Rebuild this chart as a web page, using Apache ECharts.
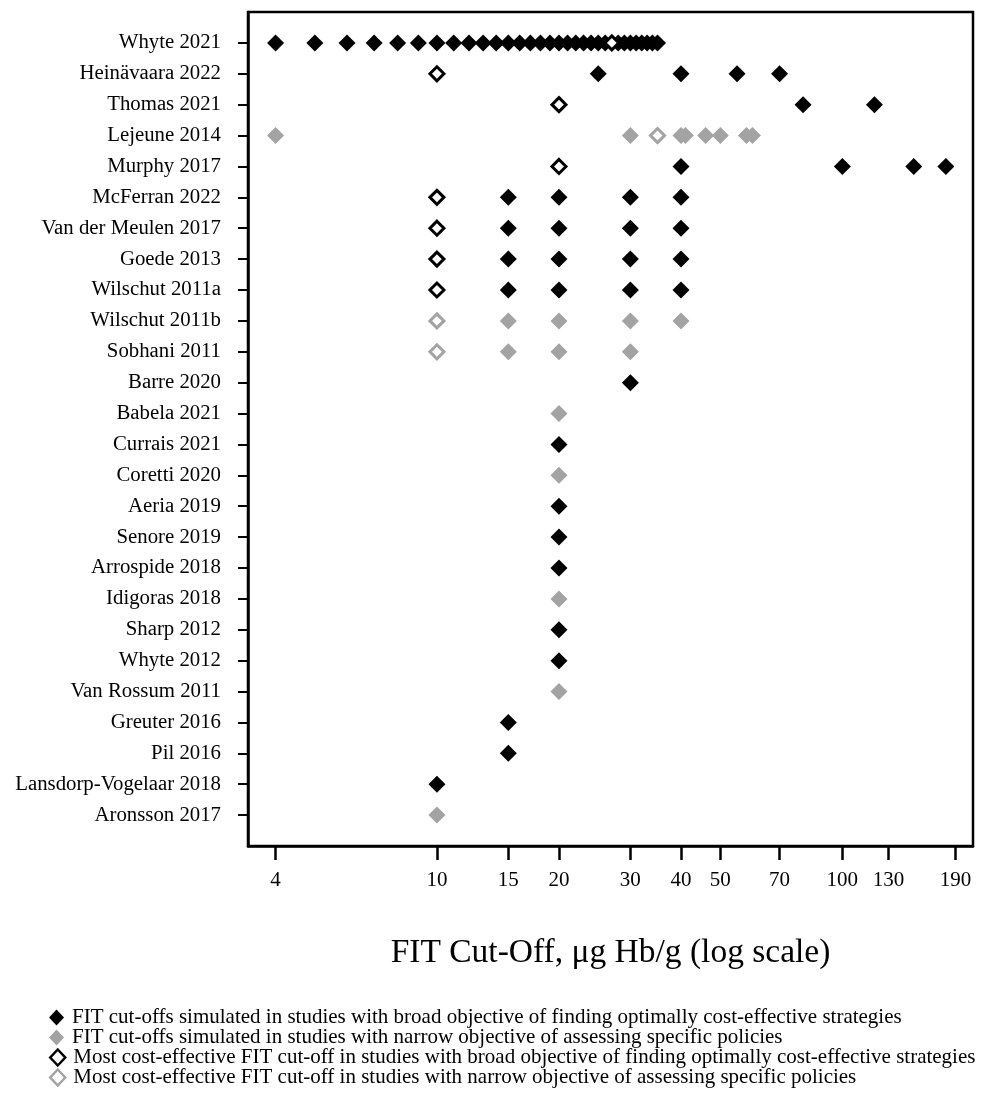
<!DOCTYPE html>
<html>
<head>
<meta charset="utf-8">
<script src="https://cdn.jsdelivr.net/npm/echarts@6/dist/echarts.min.js"></script>
<style>
html,body{margin:0;padding:0;background:#fff;}
#chart{width:989px;height:1094px;}
</style>
</head>
<body>
<div id="chart"></div>
<script>
// Studies, top to bottom
const studies = ['Whyte 2021','Heinävaara 2022','Thomas 2021','Lejeune 2014','Murphy 2017','McFerran 2022','Van der Meulen 2017','Goede 2013','Wilschut 2011a','Wilschut 2011b','Sobhani 2011','Barre 2020','Babela 2021','Currais 2021','Coretti 2020','Aeria 2019','Senore 2019','Arrospide 2018','Idigoras 2018','Sharp 2012','Whyte 2012','Van Rossum 2011','Greuter 2016','Pil 2016','Lansdorp-Vogelaar 2018','Aronsson 2017'];

// FIT cut-offs simulated, broad objective (black filled), aligned with studies
const broadSimulated = [
  [4,5,6,7,8,9,10,11,12,13,14,15,16,17,18,19,20,21,22,23,24,25,26,28,29,30,31,32,33,34,35],
  [25,40,55,70],
  [80,120],
  [],
  [40,100,150,180],
  [15,20,30,40],
  [15,20,30,40],
  [15,20,30,40],
  [15,20,30,40],
  [], [], [30], [], [20], [], [20], [20], [20], [], [20], [20], [], [15], [15], [10], []
];
// FIT cut-offs simulated, narrow objective (grey filled)
const narrowSimulated = [
  [], [], [],
  [4,30,40,41,46,50,58,60],
  [], [], [], [], [],
  [15,20,30,40],
  [15,20,30],
  [], [20], [], [20], [], [], [], [20], [], [], [20], [], [], [], [10]
];
// Most cost-effective cut-off, broad objective (black open)
const broadOptimal = [[27],[10],[20],[],[20],[10],[10],[10],[10],[],[],[],[],[],[],[],[],[],[],[],[],[],[],[],[],[]];
// Most cost-effective cut-off, narrow objective (grey open)
const narrowOptimal = [[],[],[],[35],[],[],[],[],[],[10],[10],[],[],[],[],[],[],[],[],[],[],[],[],[],[],[]];

const xTicks = [4,10,15,20,30,40,50,70,100,130,190];
const seriesNames = [
  'FIT cut-offs simulated in studies with broad objective of finding optimally cost-effective strategies',
  'FIT cut-offs simulated in studies with narrow objective of assessing specific policies',
  'Most cost-effective FIT cut-off in studies with broad objective of finding optimally cost-effective strategies',
  'Most cost-effective FIT cut-off in studies with narrow objective of assessing specific policies'
];
const axisTitle = 'FIT Cut-Off, μg Hb/g (log scale)';

const BLACK = '#000000';
const GREY = '#a3a3a3';
const FONT = '"Liberation Serif", "Times New Roman", serif';

const padTop = ' ', padBottom = '  ';
const yCats = [padTop].concat(studies, [padBottom]);

function toPoints(lists) {
  const out = [];
  lists.forEach((vals, i) => vals.forEach(v => out.push([v, studies[i]])));
  return out;
}

const legendItemStyles = [
  {},
  {},
  {color: '#fff', borderColor: BLACK, borderWidth: 2.5},
  {color: '#fff', borderColor: GREY, borderWidth: 2.5}
];
const legends = seriesNames.map((name, i) => ({
  orient: 'vertical', left: 49, top: 1007 + i * 20, padding: 0,
  itemWidth: 15, itemHeight: 16,
  textStyle: {fontFamily: FONT, fontSize: 21, color: BLACK, padding: [0, 0, 0, 3]},
  data: [Object.assign({name: name, icon: 'diamond'}, Object.keys(legendItemStyles[i]).length ? {itemStyle: legendItemStyles[i]} : {})],
  selectedMode: false
}));

const chart = echarts.init(document.getElementById('chart'), null, {renderer: 'canvas'});
chart.setOption({
  animation: false,
  backgroundColor: '#ffffff',
  grid: {left: 248, right: 16, top: 12, bottom: 248, show: true, borderColor: BLACK, borderWidth: 2.5, backgroundColor: 'transparent'},
  xAxis: {
    type: 'log', logBase: 10, min: 3.42, max: 210,
    name: axisTitle, nameLocation: 'middle', nameGap: 90,
    nameTextStyle: {fontFamily: FONT, fontSize: 33.5, color: BLACK},
    axisLine: {show: true, lineStyle: {color: BLACK, width: 2.5}},
    axisTick: {show: true, inside: false, length: 14, lineStyle: {color: BLACK, width: 2.5}, customValues: xTicks},
    axisLabel: {show: true, margin: 24, fontFamily: FONT, fontSize: 21, color: BLACK, customValues: xTicks},
    splitLine: {show: false}, minorTick: {show: false}, minorSplitLine: {show: false}
  },
  yAxis: {
    type: 'category', data: yCats, inverse: true, boundaryGap: false,
    axisLine: {show: true, lineStyle: {color: BLACK, width: 2.5}},
    axisTick: {show: true, inside: false, length: 10, lineStyle: {color: BLACK, width: 2},
      interval: function (idx) { return idx > 0 && idx < yCats.length - 1; }},
    axisLabel: {margin: 27, fontFamily: FONT, fontSize: 20.8, color: BLACK, interval: 0},
    splitLine: {show: false}
  },
  legend: legends,
  series: [
    {name: seriesNames[0], type: 'scatter', symbol: 'diamond', symbolSize: 17, data: toPoints(broadSimulated),
      itemStyle: {color: BLACK, opacity: 1}, z: 2},
    {name: seriesNames[1], type: 'scatter', symbol: 'diamond', symbolSize: 17, data: toPoints(narrowSimulated),
      itemStyle: {color: GREY, opacity: 1}, z: 2},
    {name: seriesNames[2], type: 'scatter', symbol: 'diamond', symbolSize: 14, data: toPoints(broadOptimal),
      itemStyle: {color: '#ffffff', borderColor: BLACK, borderWidth: 3, opacity: 1}, z: 3},
    {name: seriesNames[3], type: 'scatter', symbol: 'diamond', symbolSize: 14, data: toPoints(narrowOptimal),
      itemStyle: {color: '#ffffff', borderColor: GREY, borderWidth: 3, opacity: 1}, z: 3}
  ]
});
</script>
</body>
</html>
